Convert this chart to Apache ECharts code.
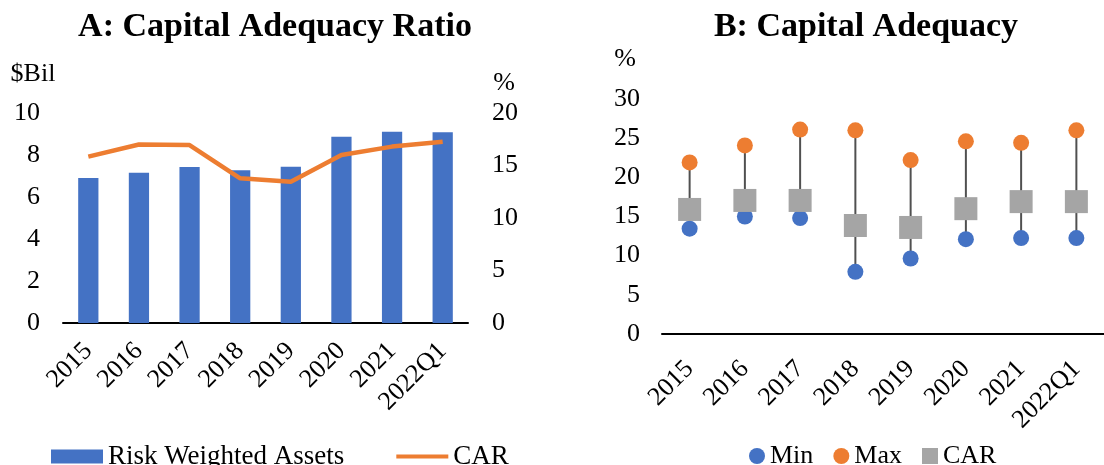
<!DOCTYPE html>
<html>
<head>
<meta charset="utf-8">
<script src="https://cdn.jsdelivr.net/npm/echarts@6/dist/echarts.min.js"></script>
<style>
  body { margin: 0; background: #fff; }
  #chartA { position: absolute; left: 0; top: 0; width: 552px; height: 465px; }
  #chartB { position: absolute; left: 552px; top: 0; width: 552px; height: 465px; }
</style>
</head>
<body>
<div id="chartA"></div>
<div id="chartB"></div>
<script>
// data
const years = ["2015", "2016", "2017", "2018", "2019", "2020", "2021", "2022Q1"];
const rwa = [6.9, 7.16, 7.43, 7.27, 7.44, 8.87, 9.11, 9.08];          // $Bil
const carA = [15.84, 17.0, 16.95, 13.78, 13.46, 16.0, 16.8, 17.27];  // %
const carMin = [13.45, 15.0, 14.8, 7.94, 9.64, 12.1, 12.25, 12.25];
const carMax = [21.9, 24.07, 26.1, 26.0, 22.2, 24.6, 24.4, 26.0];
const carB = [15.9, 17.05, 17.05, 13.85, 13.6, 16.0, 16.9, 16.9];
const ticksBil = [0, 10, 2];   // min, max, step
const ticksPctA = [0, 20, 5];
const ticksPctB = [0, 30, 5];

const FONT = "'Liberation Serif', 'Times New Roman', serif";
const BLUE = "#4472C4", ORANGE = "#ED7D31", GREY = "#A5A5A5";

function txt(text, x, y, size, bold) {
  return {
    type: "text", x: x, y: y,
    style: {
      text: text, fill: "#000",
      font: (bold ? "bold " : "") + size + "px " + FONT,
      textAlign: "center", textVerticalAlign: "middle"
    }
  };
}

const axisLabel = { color: "#000", fontFamily: FONT, fontSize: 26 };

// ---- A: Capital Adequacy Ratio
const chartA = echarts.init(document.getElementById("chartA"));
chartA.setOption({
  animation: false,
  textStyle: { fontFamily: FONT },
  graphic: [
    txt("A: Capital Adequacy Ratio", 275, 27, 34, true),
    txt("$Bil", 33, 74, 26),
    txt("%", 504, 83, 26)
  ],
  grid: { left: 63, right: 84, top: 113, bottom: 142 },
  legend: {
    left: 46, top: 438,
    itemWidth: 52, itemHeight: 14, itemGap: 52,
    textStyle: { color: "#000", fontFamily: FONT, fontSize: 27 },
    data: [
      { name: "Risk Weighted Assets", icon: "rect" },
      // thin bar for the line key; the moves keep the full 52x14 box
      { name: "CAR", icon: "path://M0,0 M52,14 M0,5 L52,5 L52,9 L0,9 Z" }
    ]
  },
  xAxis: {
    type: "category",
    data: years,
    axisLine: { lineStyle: { color: "#000", width: 2 } },
    axisTick: { show: false },
    axisLabel: Object.assign({ rotate: 45, margin: 24, interval: 0 }, axisLabel)
  },
  yAxis: [
    {
      type: "value", min: ticksBil[0], max: ticksBil[1], interval: ticksBil[2],
      splitLine: { show: false },
      axisLabel: Object.assign({ margin: 23 }, axisLabel)
    },
    {
      type: "value", min: ticksPctA[0], max: ticksPctA[1], interval: ticksPctA[2],
      splitLine: { show: false },
      axisLabel: Object.assign({ margin: 24 }, axisLabel)
    }
  ],
  series: [
    {
      name: "Risk Weighted Assets", type: "bar", data: rwa,
      barWidth: "40%",
      itemStyle: { color: BLUE }
    },
    {
      name: "CAR", type: "line", yAxisIndex: 1, data: carA,
      symbol: "none",
      lineStyle: { color: ORANGE, width: 4.5 },
      itemStyle: { color: ORANGE }
    }
  ]
});

// ---- B: Capital Adequacy
const rangeData = years.map((y, i) => [i, carMin[i], carMax[i]]);

const chartB = echarts.init(document.getElementById("chartB"));
chartB.setOption({
  animation: false,
  textStyle: { fontFamily: FONT },
  graphic: [
    txt("B: Capital Adequacy", 314, 27, 34, true),
    txt("%", 73, 59, 26)
  ],
  grid: { left: 110, right: -16, top: 99, bottom: 131 },
  legend: {
    left: 192, top: 438,
    itemWidth: 16, itemHeight: 16, itemGap: 20,
    textStyle: { color: "#000", fontFamily: FONT, fontSize: 26 },
    data: ["Min", "Max", "CAR"]
  },
  xAxis: {
    type: "category",
    data: years,
    axisLine: { lineStyle: { color: "#000", width: 2 } },
    axisTick: { show: false },
    axisLabel: Object.assign({ rotate: 45, margin: 31, interval: 0 }, axisLabel)
  },
  yAxis: {
    type: "value", min: ticksPctB[0], max: ticksPctB[1], interval: ticksPctB[2],
    splitLine: { show: false },
    axisLabel: Object.assign({ margin: 22 }, axisLabel)
  },
  series: [
    {
      name: "range", type: "custom", data: rangeData, z: 1,
      encode: { x: 0, y: [1, 2] },
      renderItem: function (params, api) {
        const p1 = api.coord([api.value(0), api.value(1)]);
        const p2 = api.coord([api.value(0), api.value(2)]);
        return {
          type: "line",
          shape: { x1: p1[0], y1: p1[1], x2: p2[0], y2: p2[1] },
          style: { stroke: "#505050", lineWidth: 2 }
        };
      }
    },
    {
      name: "Min", type: "scatter", data: carMin, z: 3,
      symbol: "circle", symbolSize: 16,
      itemStyle: { color: BLUE, opacity: 1 }
    },
    {
      name: "Max", type: "scatter", data: carMax, z: 3,
      symbol: "circle", symbolSize: 16,
      itemStyle: { color: ORANGE, opacity: 1 }
    },
    {
      name: "CAR", type: "scatter", data: carB, z: 4,
      symbol: "rect", symbolSize: [23, 23],
      itemStyle: { color: GREY, opacity: 1 }
    }
  ]
});
</script>
</body>
</html>
